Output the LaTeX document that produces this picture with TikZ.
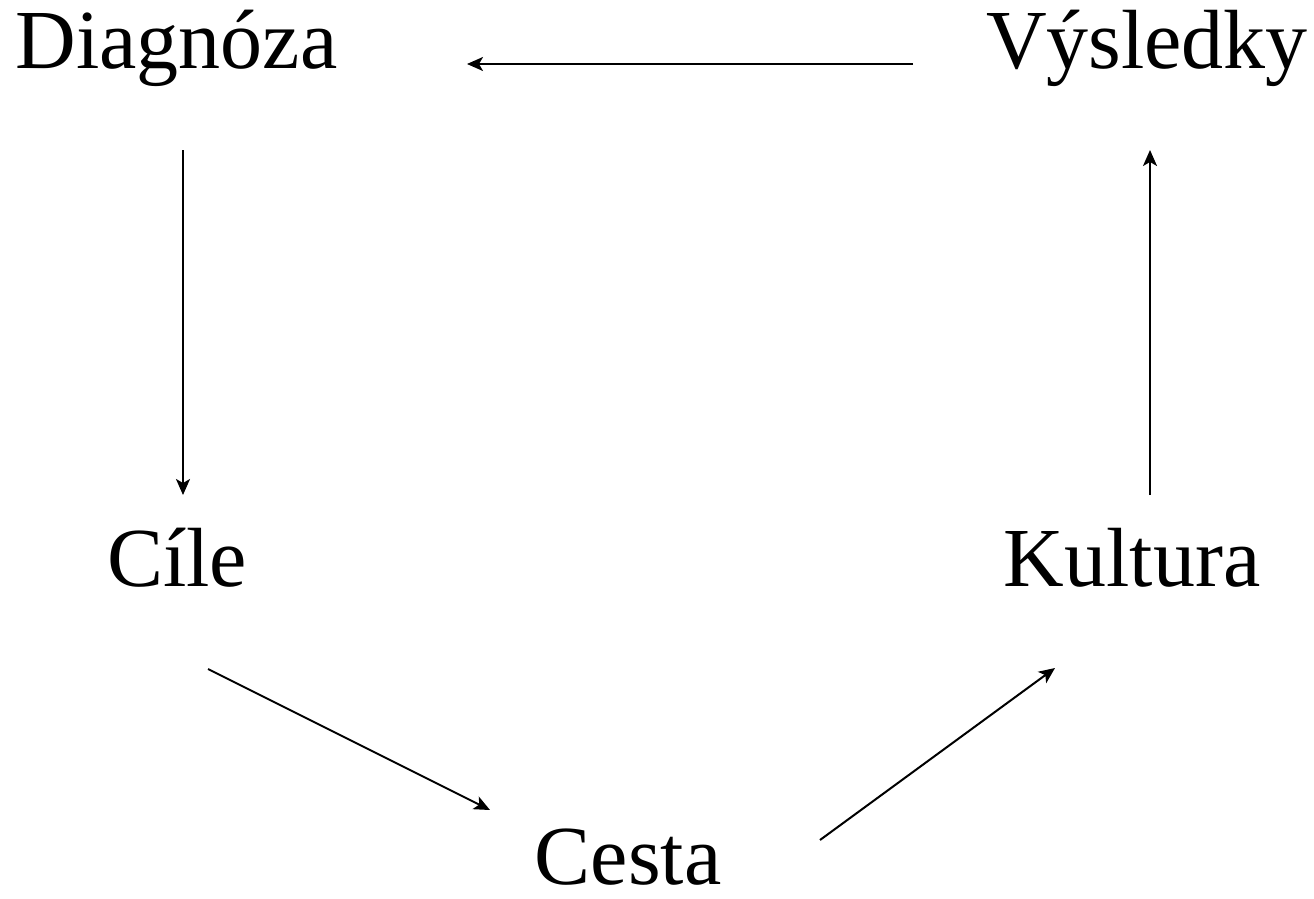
\documentclass[tikz,border=0pt]{standalone}
\usepackage{fontspec}
\setmainfont{Liberation Serif}
\usetikzlibrary{arrows.meta}
\begin{document}
\begin{tikzpicture}[x=1pt,y=-1pt,
  label/.style={anchor=base,inner sep=0pt,font=\fontsize{84}{100}\selectfont},
  link/.style={line width=2pt,-{Stealth[length=16pt,width=14pt,inset=4pt]}}]
\useasboundingbox (0,0) rectangle (1314,899);
% stage names
\node[label] (dia) at (176.5,69) {Diagnóza};
\node[label] (vys) at (1147,69) {Výsledky};
\node[label] (cil) at (177,586) {Cíle};
\node[label] (kul) at (1132,586) {Kultura};
\node[label] (ces) at (628,884) {Cesta};
% connector ends
\coordinate (vysW) at (913,64);
\coordinate (diaE) at (467,64);
\coordinate (diaS) at (183,150);
\coordinate (cilN) at (183,495);
\coordinate (cilSE) at (208,669);
\coordinate (cesNW) at (490,810);
\coordinate (cesNE) at (820,840);
\coordinate (kulSW) at (1055,668);
\coordinate (kulN) at (1150,495);
\coordinate (vysS) at (1150,150);
% cycle of arrows
\draw[link] (vysW) -- (diaE);
\draw[link] (diaS) -- (cilN);
\draw[link] (cilSE) -- (cesNW);
\draw[link] (cesNE) -- (kulSW);
\draw[link] (kulN) -- (vysS);
\end{tikzpicture}
\end{document}
